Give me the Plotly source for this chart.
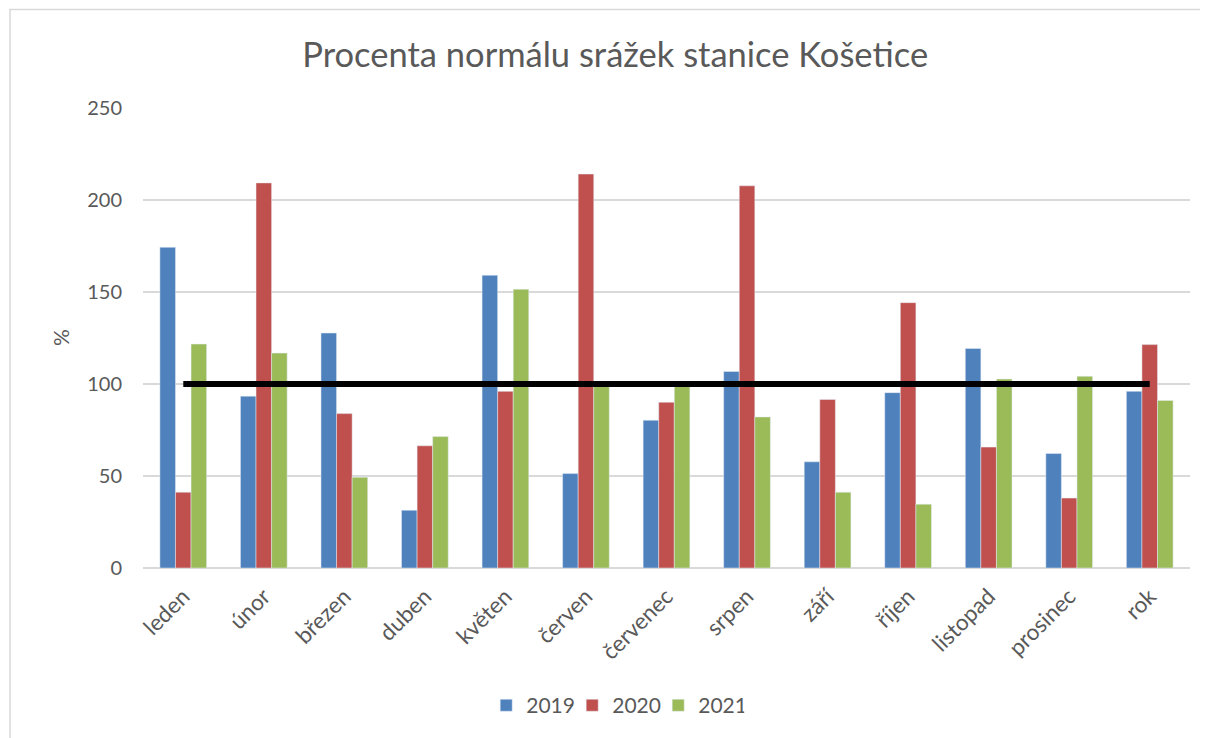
import plotly.graph_objects as go

months = ["leden", "únor", "březen", "duben", "květen", "červen", "červenec",
          "srpen", "září", "říjen", "listopad", "prosinec", "rok"]
v2019 = [174.3, 93.4, 127.7, 31.4, 159.1, 51.3, 80.3, 106.8, 57.7, 95.3, 119.3, 62.2, 96.0]
v2020 = [41.2, 209.3, 83.9, 66.4, 96.0, 214.1, 90.1, 207.7, 91.6, 144.2, 65.7, 38.0, 121.4]
v2021 = [121.7, 116.8, 49.3, 71.4, 151.5, 99.0, 99.0, 82.1, 41.2, 34.7, 102.7, 104.2, 91.1]
normal = [100] * len(months)

font_family = "Lato, 'Open Sans', sans-serif"
txt = "#595959"

fig = go.Figure()
fig.add_trace(go.Bar(x=months, y=v2019, name="2019", marker=dict(color="#4F81BD")))
fig.add_trace(go.Bar(x=months, y=v2020, name="2020", marker=dict(color="#C0504D")))
fig.add_trace(go.Bar(x=months, y=v2021, name="2021", marker=dict(color="#9BBB59")))
fig.add_trace(go.Scatter(x=months, y=normal, mode="lines", showlegend=False,
                         line=dict(color="black", width=6)))

# page offset of 8px (body margin) is compensated: figure 1200x730
fig.update_layout(
    width=1200, height=730,
    margin=dict(l=135, r=18, t=100, b=164),
    paper_bgcolor="white", plot_bgcolor="white",
    font=dict(family=font_family, color=txt, size=20),
    title=dict(text="Procenta normálu srážek stanice Košetice",
               font=dict(size=34.5, color=txt, family=font_family),
               x=0.506, xanchor="center", y=(730 - 47) / 730, yanchor="middle"),
    barmode="group", bargap=0.42, bargroupgap=0,
    legend=dict(orientation="h", x=0.451, xanchor="center", y=(566 - 703) / 458,
                yanchor="middle", font=dict(size=21, color=txt), traceorder="normal",
                entrywidth=41, entrywidthmode="pixels"),
    xaxis=dict(tickangle=-45, showgrid=False, showline=False, ticks="",
               range=[-0.5, 12.5], autorange=False, automargin=False,
               tickfont=dict(size=22.5, color=txt), ticklabelstandoff=10),
    yaxis=dict(range=[0, 250], dtick=50, showgrid=True, gridcolor="#D9D9D9", gridwidth=1.5,
               zeroline=True, zerolinecolor="#D9D9D9", zerolinewidth=2, automargin=False,
               showline=False, ticks="", ticklen=0, ticklabelstandoff=20,
               tickfont=dict(size=20, color=txt)),
    annotations=[dict(text="%", textangle=-90, xref="paper", yref="paper",
                      x=(60 - 143) / 1047, y=0.5, xanchor="center", yanchor="middle",
                      showarrow=False, font=dict(size=21, color=txt))],
    shapes=[dict(type="rect", xref="paper", yref="paper",
                 x0=(10 - 143) / 1047, x1=1.2, y0=-0.5, y1=(566 - 10) / 458,
                 line=dict(color="#D9D9D9", width=1.5), fillcolor="rgba(0,0,0,0)",
                 layer="below")],
)

fig.write_html("out.html")
